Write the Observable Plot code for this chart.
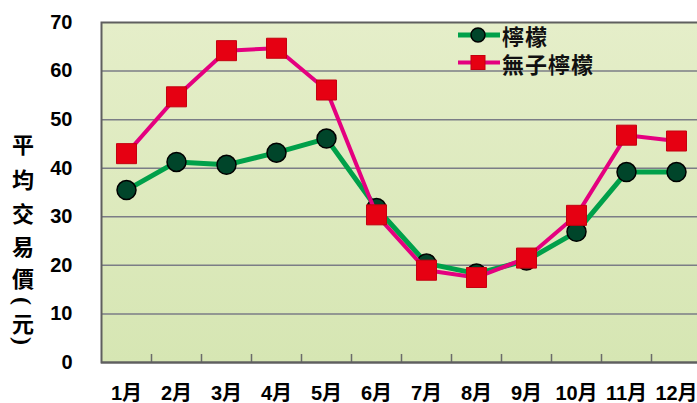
<!DOCTYPE html>
<html><head><meta charset="utf-8">
<script src="https://cdn.jsdelivr.net/npm/d3@7"></script>
<script src="https://cdn.jsdelivr.net/npm/@observablehq/plot@0.6"></script>
<style>
body{margin:0;background:#fff;}
#chart{position:relative;width:697px;height:403px;overflow:hidden;}
</style>
</head><body><div id="chart"></div>
<script>
// ---- data ----
const months = ["1月","2月","3月","4月","5月","6月","7月","8月","9月","10月","11月","12月"];
const lemon = [35.5, 41.3, 40.7, 43.2, 46.1, 31.8, 20.4, 18.3, 21.0, 26.9, 39.2, 39.2];
const seedless = [43.0, 54.7, 64.2, 64.7, 56.1, 30.4, 19.0, 17.5, 21.5, 30.3, 46.8, 45.6];
const yTicks = [0, 10, 20, 30, 40, 50, 60, 70];
const seriesNames = ["檸檬", "無子檸檬"];
const yTitle = ["平","均","交","易","價","(","元",")"];

const rows = months.map((m, i) => ({idx: i + 1, month: m, lemon: lemon[i], seedless: seedless[i]}));
const boundaries = months.slice(1).map((m, i) => i + 1.5);

const GREEN = "#00a04a", DKGREEN = "#00452a", PINK = "#e4007f", RED = "#e60012";

const defs = () => {
  const d = d3.create("svg:defs");
  const g = d.append("linearGradient").attr("id", "bg").attr("x1", 0).attr("y1", 0).attr("x2", 0).attr("y2", 1);
  g.append("stop").attr("offset", "0%").attr("stop-color", "#e5eec9");
  g.append("stop").attr("offset", "100%").attr("stop-color", "#d6e6b3");
  return d.node();
};

const plot = Plot.plot({
  width: 697, height: 403,
  marginLeft: 101, marginRight: -4, marginTop: 22, marginBottom: 41,
  style: {fontFamily: "'Liberation Sans', Arial, 'Noto Sans CJK TC', sans-serif", background: "white", overflow: "visible", color: "#000"},
  x: {type: "linear", domain: [0.5, 12.5], label: null},
  y: {domain: [0, 70], label: null},
  marks: [
    defs,
    Plot.frame({fill: "url(#bg)"}),
    Plot.gridY(yTicks.filter(v => v > 0 && v < 70), {stroke: "#7b7d86", strokeOpacity: 1, strokeWidth: 1.5}),
    Plot.ruleX(boundaries, {y1: 0, y2: 0, insetTop: -8, stroke: "#6b6b6b", strokeWidth: 1.5}),
    Plot.ruleY([0], {stroke: "#6b6b6b", strokeWidth: 2}),
    Plot.frame({stroke: "#5f5f5f", strokeWidth: 2}),
    Plot.axisY({ticks: yTicks, tickSize: 0, tickPadding: 29, fontSize: 20, fontWeight: "bold", fill: "#000", label: null}),
    Plot.axisX({ticks: rows.map(d => d.idx), tickSize: 0, tickPadding: 23, tickFormat: i => months[i - 1], fontSize: 20, fontWeight: "bold", fill: "#000", label: null}),
    Plot.line(rows, {x: "idx", y: "lemon", stroke: GREEN, strokeWidth: 5}),
    Plot.dot(rows, {x: "idx", y: "lemon", r: 9.5, fill: DKGREEN, stroke: "#000", strokeWidth: 1.5}),
    Plot.line(rows, {x: "idx", y: "seedless", stroke: PINK, strokeWidth: 4}),
    Plot.dot(rows, {x: "idx", y: "seedless", symbol: "square", r: 11.3, fill: RED, stroke: "#c4000f", strokeWidth: 1})
  ]
});

const svg = d3.select(plot);
// y-axis title (vertical)
const yPos = [143, 178, 212, 245, 277, 301, 322, 341];
const tg = svg.append("g").attr("font-family", "'Noto Sans CJK TC', sans-serif").attr("font-weight", "bold").attr("font-size", 22).attr("fill", "#000").attr("text-anchor", "middle");
yTitle.forEach((c, i) => {
  const t = tg.append("text").attr("dominant-baseline", "central").text(c);
  if (c === "(" || c === ")") {
    t.attr("font-family", "'Liberation Serif', serif").attr("font-size", 24)
      .attr("transform", `translate(23,${yPos[i]}) rotate(90)`).attr("transform-origin", null);
  } else {
    t.attr("x", 23).attr("y", yPos[i]);
  }
});

// legend
const entries = [
  {name: seriesNames[0], line: GREEN, lw: 5, y: 35, shape: "circle"},
  {name: seriesNames[1], line: PINK, lw: 4, y: 62.5, shape: "square"}
];
const lg = svg.append("g").attr("text-anchor", "start");
entries.forEach(e => {
  lg.append("line").attr("x1", 458).attr("x2", 500).attr("y1", e.y).attr("y2", e.y).attr("stroke", e.line).attr("stroke-width", e.lw);
  if (e.shape === "circle") {
    lg.append("circle").attr("cx", 478).attr("cy", e.y).attr("r", 7).attr("fill", DKGREEN).attr("stroke", "#000").attr("stroke-width", 1.5);
  } else {
    lg.append("rect").attr("x", 471).attr("y", e.y - 7).attr("width", 14).attr("height", 14).attr("fill", RED).attr("stroke", "#c4000f");
  }
  lg.append("text").attr("x", 502).attr("y", e.y).attr("dominant-baseline", "central").attr("text-anchor", "start")
    .attr("font-family", "'Noto Sans CJK TC', sans-serif").attr("font-weight", "bold").attr("font-size", 22)
    .attr("letter-spacing", 1).attr("fill", "#111").text(e.name);
});

document.getElementById("chart").appendChild(plot);
</script>
</body></html>
